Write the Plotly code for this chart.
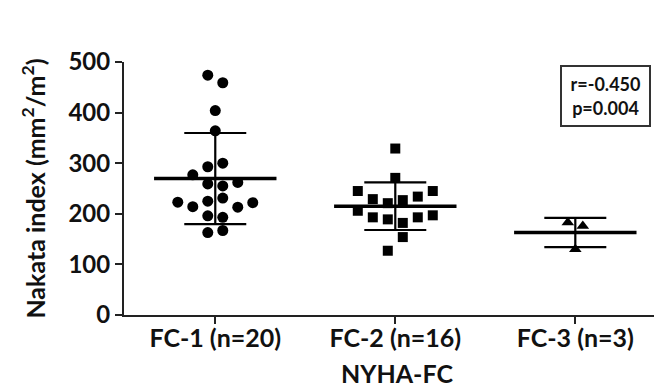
import numpy as np
import plotly.graph_objects as go

# ---- data ----
categories = ["FC-1 (n=20)", "FC-2 (n=16)", "FC-3 (n=3)"]

fc1_values = [474, 459, 404, 364, 300, 293, 277, 259, 255, 262,
              223, 214, 225, 231, 213, 222, 196, 193, 163, 167]
fc1_slots = [-0.5, 0.5, 0, 0, 0.5, -0.5, -1.5, -0.5, 0.5, 1.5,
             -2.5, -1.5, -0.5, 0.5, 1.5, 2.5, -0.5, 0.5, -0.5, 0.5]

fc2_values = [329, 271, 245, 245, 229, 234, 227, 221, 206, 193,
              189, 182, 193, 197, 154, 127]
fc2_slots = [0, 0, -2.5, 2.5, -1.5, 1.5, 0.5, -0.5, -2.5, -1.5,
             -0.5, 0.5, 1.5, 2.5, 0.5, -0.5]

fc3_values = [183, 176, 130]
fc3_slots = [-0.5, 0.5, 0]

y_ticks = [0, 100, 200, 300, 400, 500]
stats_text = ["r=-0.450", "p=0.004"]

groups = [fc1_values, fc2_values, fc3_values]
slots = [fc1_slots, fc2_slots, fc3_slots]
symbols = ["circle", "square", "triangle-up"]
sizes = [11, 10, 11]

SLOT_W = 0.0833   # horizontal spacing of swarm columns (category units)
MEAN_HALF = 0.34  # half width of mean line (category units)
FONT = "Lato"

fig = go.Figure()

for i, (vals, sl) in enumerate(zip(groups, slots)):
    x = [i + s * SLOT_W for s in sl]
    fig.add_trace(go.Scatter(
        x=x, y=vals, mode="markers",
        marker=dict(symbol=symbols[i], size=sizes[i], color="black",
                    line=dict(width=0)),
        showlegend=False, hoverinfo="y"))

for i, vals in enumerate(groups):
    arr = np.array(vals, dtype=float)
    m = arr.mean()
    sd = arr.std(ddof=1)
    fig.add_trace(go.Scatter(
        x=[i - MEAN_HALF, i + MEAN_HALF], y=[m, m], mode="lines",
        line=dict(color="black", width=3.5), showlegend=False,
        hoverinfo="skip"))
    fig.add_trace(go.Scatter(
        x=[i], y=[m], mode="markers",
        marker=dict(size=1, color="rgba(0,0,0,0)"),
        error_y=dict(type="data", array=[sd], visible=True,
                     color="black", thickness=2.2, width=31),
        showlegend=False, hoverinfo="skip"))

fig.add_annotation(
    xref="paper", yref="paper", x=0.882, y=0.866,
    xanchor="center", yanchor="middle",
    text="<b>" + "<br>".join(stats_text) + "</b>",
    showarrow=False, font=dict(family=FONT, size=18, color="#111"),
    align="center", bordercolor="#333", borderwidth=2, borderpad=2,
    width=83, height=54, bgcolor="white")

fig.update_layout(
    width=662, height=390,
    margin=dict(l=116, r=0, t=54, b=83),
    plot_bgcolor="white", paper_bgcolor="white",
    xaxis=dict(
        range=[-0.507, 2.526], tickmode="array", tickvals=[0, 1, 2],
        ticktext=categories, showline=True, linecolor="#222", linewidth=2,
        ticks="outside", ticklen=7, tickwidth=2, tickcolor="#222",
        showgrid=False, zeroline=False, ticklabelstandoff=-7,
        tickfont=dict(family=FONT, size=25, color="#111", weight="bold"),
        title=dict(text="NYHA-FC", standoff=14,
                   font=dict(family=FONT, size=25, color="#111",
                             weight="bold"))),
    yaxis=dict(
        range=[0, 500], tickmode="array", tickvals=y_ticks,
        showline=True, linecolor="#222", linewidth=2,
        ticks="outside", ticklen=7, tickwidth=2, tickcolor="#222",
        showgrid=False, zeroline=False,
        tickfont=dict(family=FONT, size=24, color="#111", weight="bold"),
        title=dict(text="Nakata index (mm<sup>2</sup>/m<sup>2</sup>)",
                   standoff=16,
                   font=dict(family=FONT, size=25, color="#111",
                             weight="bold"))),
)

fig.write_html("out.html")
